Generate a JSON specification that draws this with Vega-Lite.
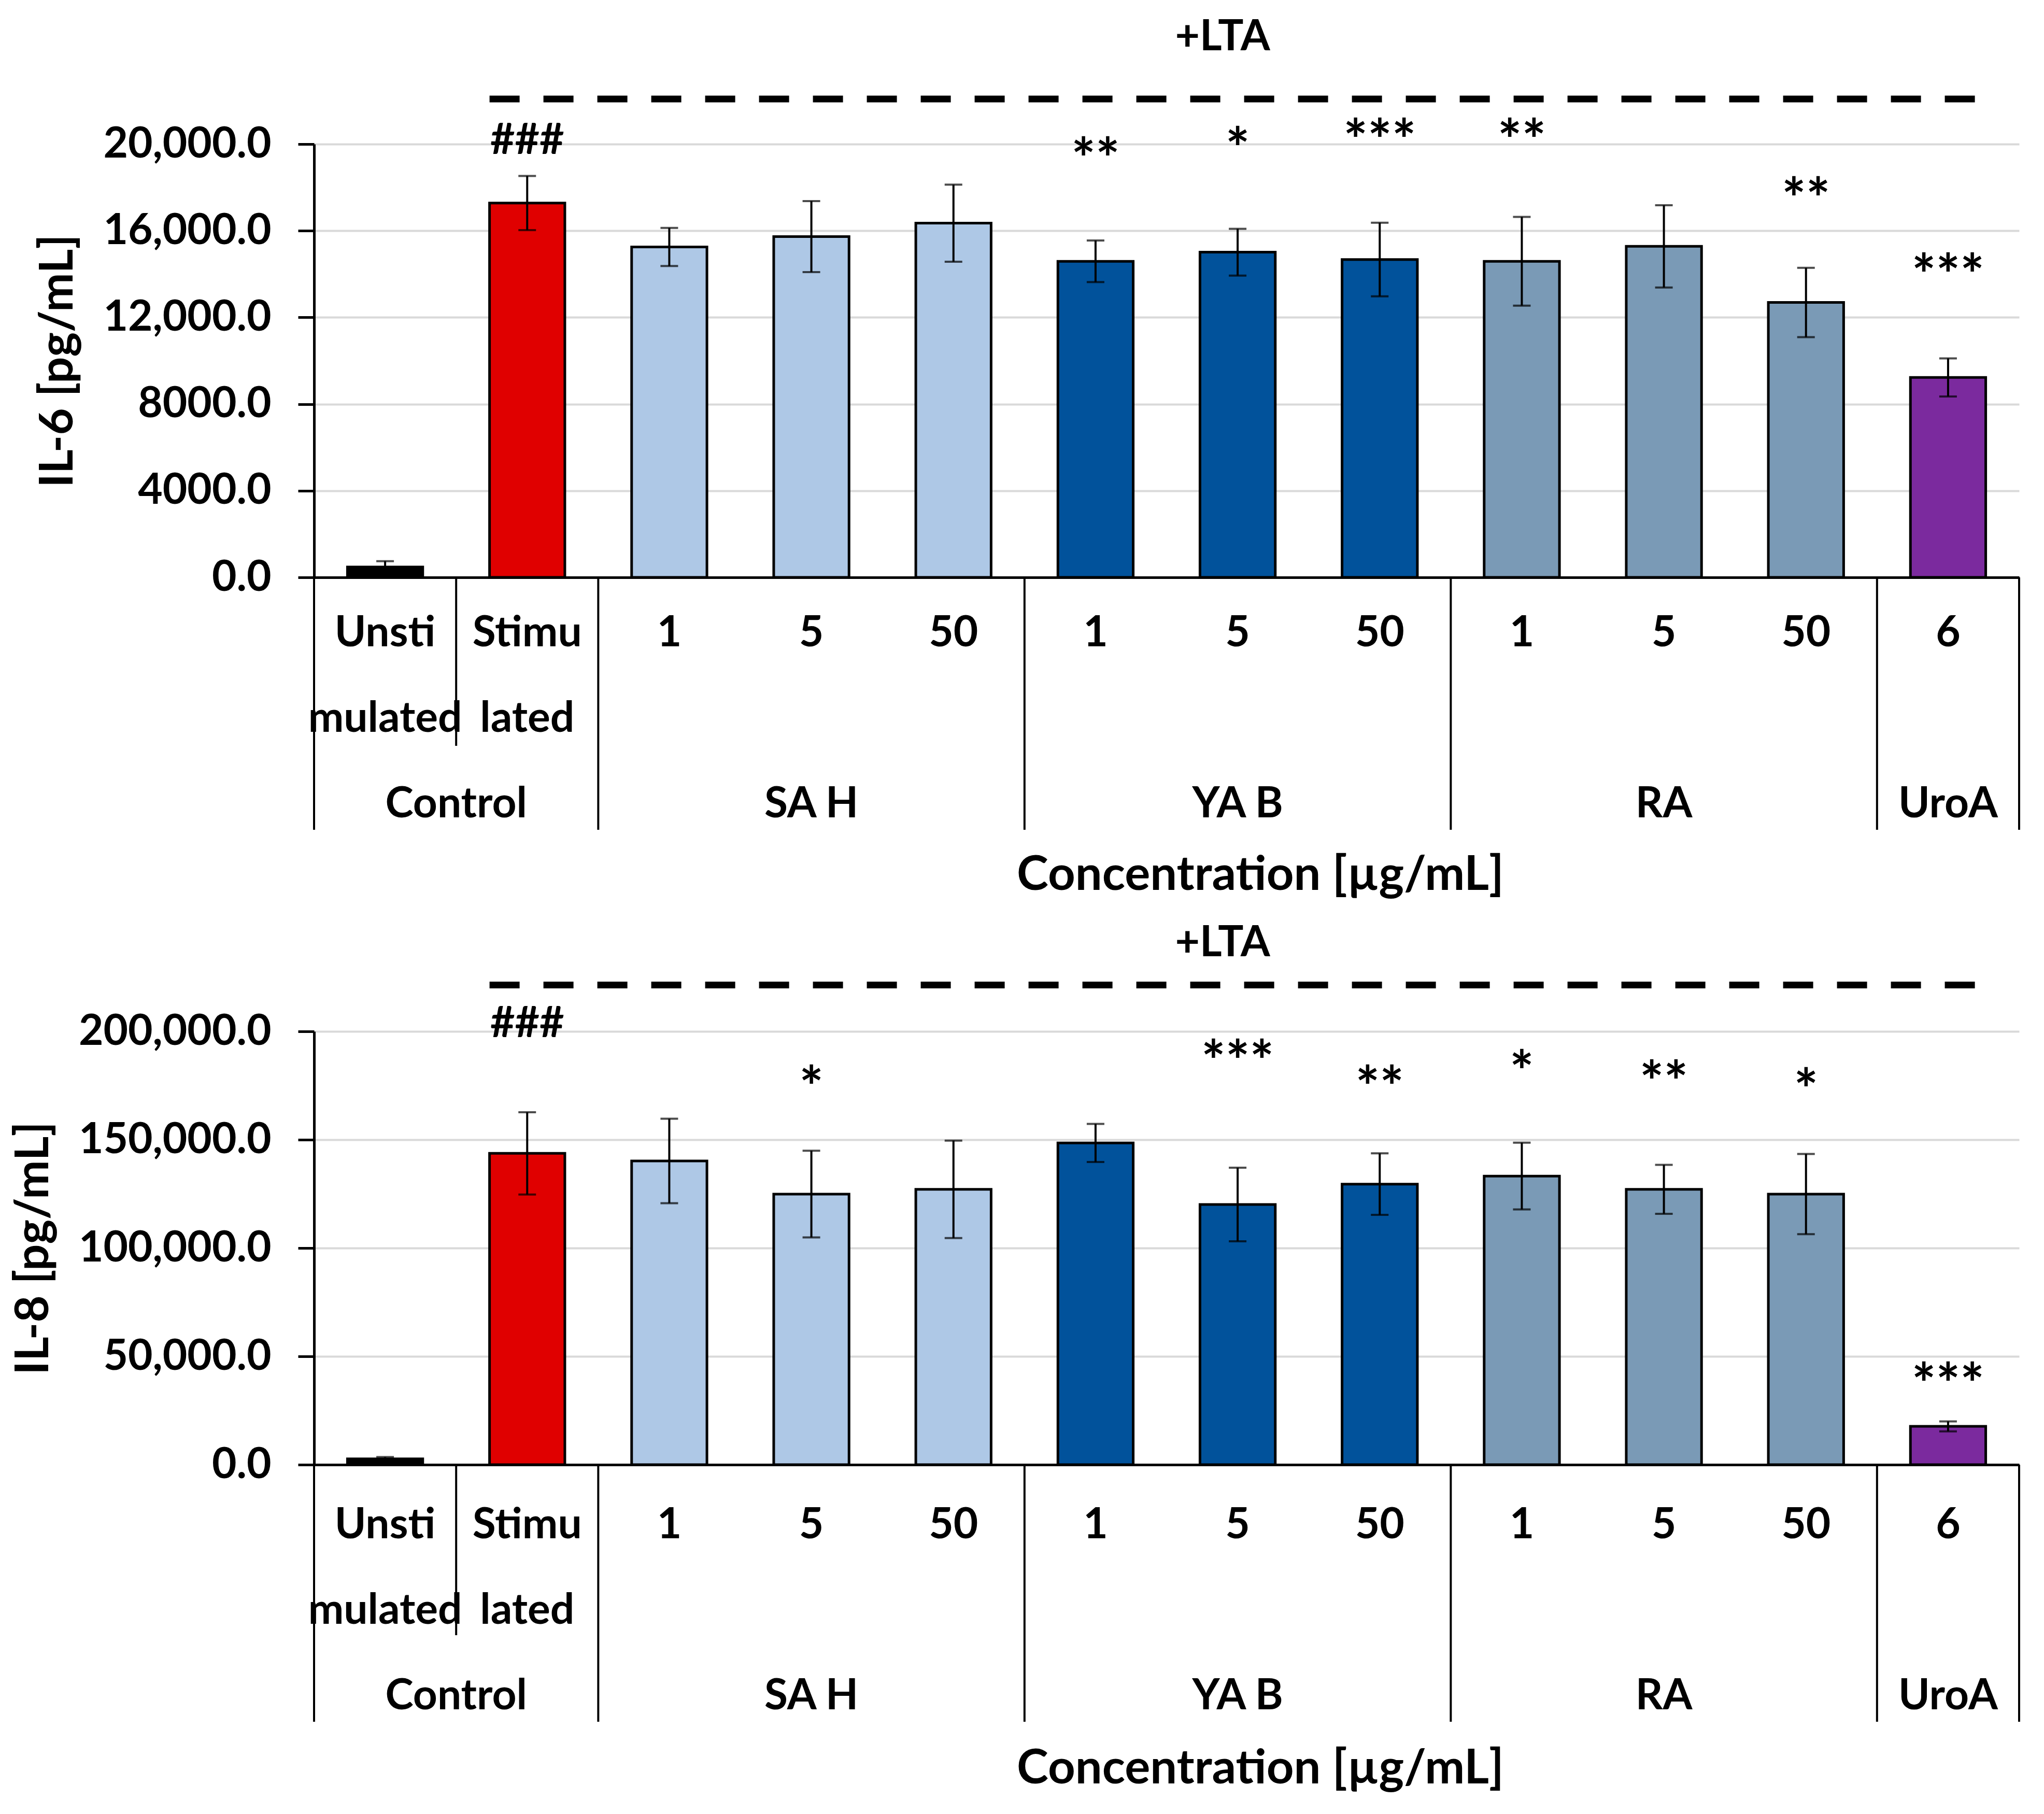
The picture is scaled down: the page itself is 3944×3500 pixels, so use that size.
{
  "$schema": "https://vega.github.io/schema/vega-lite/v6.json",
  "padding": {"left": 20, "top": 30, "right": 10, "bottom": 10},
  "background": "white",
  "spacing": 0,
  "bounds": "flush",
  "datasets": {
    "il6": [
      {"id": "c1", "series": "Unstimulated", "mean": 480, "sd": 270},
      {"id": "c2", "series": "Stimulated", "mean": 17280, "sd": 1250},
      {"id": "c3", "series": "SA H", "mean": 15250, "sd": 880},
      {"id": "c4", "series": "SA H", "mean": 15730, "sd": 1640},
      {"id": "c5", "series": "SA H", "mean": 16350, "sd": 1780},
      {"id": "c6", "series": "YA B", "mean": 14590, "sd": 960},
      {"id": "c7", "series": "YA B", "mean": 15010, "sd": 1080},
      {"id": "c8", "series": "YA B", "mean": 14670, "sd": 1700},
      {"id": "c9", "series": "RA", "mean": 14590, "sd": 2050},
      {"id": "c10", "series": "RA", "mean": 15280, "sd": 1900},
      {"id": "c11", "series": "RA", "mean": 12690, "sd": 1600},
      {"id": "c12", "series": "UroA", "mean": 9230, "sd": 880}
    ],
    "il8": [
      {"id": "c1", "series": "Unstimulated", "mean": 2700, "sd": 800},
      {"id": "c2", "series": "Stimulated", "mean": 143700, "sd": 19000},
      {"id": "c3", "series": "SA H", "mean": 140200, "sd": 19500},
      {"id": "c4", "series": "SA H", "mean": 124900, "sd": 20000},
      {"id": "c5", "series": "SA H", "mean": 127100, "sd": 22500},
      {"id": "c6", "series": "YA B", "mean": 148500, "sd": 8800},
      {"id": "c7", "series": "YA B", "mean": 120100, "sd": 17000},
      {"id": "c8", "series": "YA B", "mean": 129500, "sd": 14200},
      {"id": "c9", "series": "RA", "mean": 133200, "sd": 15400},
      {"id": "c10", "series": "RA", "mean": 127100, "sd": 11300},
      {"id": "c11", "series": "RA", "mean": 124900, "sd": 18500},
      {"id": "c12", "series": "UroA", "mean": 17700, "sd": 2300}
    ],
    "sig6": [
      {"id": "c2", "sig": "###", "pos": 20270},
      {"id": "c6", "sig": "**", "pos": 19870},
      {"id": "c7", "sig": "*", "pos": 20350},
      {"id": "c8", "sig": "***", "pos": 20750},
      {"id": "c9", "sig": "**", "pos": 20750},
      {"id": "c11", "sig": "**", "pos": 18050},
      {"id": "c12", "sig": "***", "pos": 14530}
    ],
    "sig8": [
      {"id": "c2", "sig": "###", "pos": 204600},
      {"id": "c4", "sig": "*", "pos": 179900},
      {"id": "c7", "sig": "***", "pos": 191900},
      {"id": "c8", "sig": "**", "pos": 179900},
      {"id": "c9", "sig": "*", "pos": 187100},
      {"id": "c10", "sig": "**", "pos": 182300},
      {"id": "c11", "sig": "*", "pos": 178800},
      {"id": "c12", "sig": "***", "pos": 42900}
    ],
    "lta6": [{"from": "c2", "to": "c12", "level": 22080, "label": "+LTA", "labelAt": "c7", "labelLevel": 24930}],
    "lta8": [{"from": "c2", "to": "c12", "level": 221400, "label": "+LTA", "labelAt": "c7", "labelLevel": 240700}],
    "cats": [
      {"id": "c1", "line1": "Unsti", "line2": "mulated"},
      {"id": "c2", "line1": "Stimu", "line2": "lated"},
      {"id": "c3", "line1": "1", "line2": ""},
      {"id": "c4", "line1": "5", "line2": ""},
      {"id": "c5", "line1": "50", "line2": ""},
      {"id": "c6", "line1": "1", "line2": ""},
      {"id": "c7", "line1": "5", "line2": ""},
      {"id": "c8", "line1": "50", "line2": ""},
      {"id": "c9", "line1": "1", "line2": ""},
      {"id": "c10", "line1": "5", "line2": ""},
      {"id": "c11", "line1": "50", "line2": ""},
      {"id": "c12", "line1": "6", "line2": ""}
    ],
    "groups": [
      {"group": "SA H", "at": "c4"},
      {"group": "YA B", "at": "c7"},
      {"group": "RA", "at": "c10"},
      {"group": "UroA", "at": "c12"}
    ],
    "control": [{"group": "Control", "after": "c1"}],
    "seps": [{"at": "c1"}, {"at": "c3"}, {"at": "c6"}, {"at": "c9"}, {"at": "c12"}],
    "edge": [{"at": "c12"}],
    "short": [{"at": "c2"}]
  },
  "vconcat": [
    {
      "width": 3290,
      "height": 836,
      "layer": [
        {
          "data": {"name": "il6"},
          "mark": {"type": "bar", "stroke": "#000000", "strokeWidth": 5},
          "encoding": {
            "x": {"field": "id", "type": "nominal", "title": null, "scale": {"domain": ["c1","c2","c3","c4","c5","c6","c7","c8","c9","c10","c11","c12"], "paddingInner": 0.47, "paddingOuter": 0.235}},
            "y": {"field": "mean", "type": "quantitative", "title": "IL-6 [pg/mL]", "scale": {"domain": [0, 20000], "nice": false},
                  "axis": {"values": [0, 4000, 8000, 12000, 16000, 20000], "labelExpr": "datum.value >= 10000 ? format(datum.value, ',.1f') : format(datum.value, '.1f')"}},
            "color": {"field": "series", "type": "nominal", "legend": null,
                      "scale": {"domain": ["Unstimulated","Stimulated","SA H","YA B","RA","UroA"], "range": ["#000000","#E00000","#AEC8E6","#01529B","#7A9AB6","#7B2A9E"]}}
          }
        },
        {
          "data": {"name": "il6"},
          "mark": {"type": "errorbar", "ticks": true, "size": 34, "thickness": 4, "color": "#000000"},
          "encoding": {
            "x": {"field": "id", "type": "nominal", "title": null},
            "y": {"field": "mean", "type": "quantitative", "title": "IL-6 [pg/mL]", "scale": {"domain": [0, 20000], "nice": false}},
            "yError": {"field": "sd"}
          }
        },
        {
          "data": {"name": "sig6"},
          "transform": [{"filter": "datum.sig != '###'"}],
          "mark": {"type": "text", "baseline": "middle", "fontSize": 110, "dy": 30},
          "encoding": {
            "x": {"field": "id", "type": "nominal", "title": null},
            "y": {"field": "pos", "type": "quantitative", "title": "IL-6 [pg/mL]", "scale": {"domain": [0, 20000], "nice": false}},
            "text": {"field": "sig"}
          }
        },
        {
          "data": {"name": "sig6"},
          "transform": [{"filter": "datum.sig == '###'"}],
          "mark": {"type": "text", "baseline": "middle", "dy": 5},
          "encoding": {
            "x": {"field": "id", "type": "nominal", "title": null},
            "y": {"field": "pos", "type": "quantitative", "title": "IL-6 [pg/mL]", "scale": {"domain": [0, 20000], "nice": false}},
            "text": {"field": "sig"}
          }
        },
        {
          "data": {"name": "lta6"},
          "mark": {"type": "rule", "strokeWidth": 13, "strokeDash": [58, 46], "color": "#000000"},
          "encoding": {
            "x": {"field": "from", "type": "nominal", "title": null, "bandPosition": 0},
            "x2": {"field": "to", "bandPosition": 1},
            "y": {"field": "level", "type": "quantitative", "title": "IL-6 [pg/mL]", "scale": {"domain": [0, 20000], "nice": false}}
          }
        },
        {
          "data": {"name": "lta6"},
          "mark": {"type": "text", "baseline": "middle"},
          "encoding": {
            "x": {"field": "labelAt", "type": "nominal", "title": null, "bandPosition": 0.3},
            "y": {"field": "labelLevel", "type": "quantitative", "title": "IL-6 [pg/mL]", "scale": {"domain": [0, 20000], "nice": false}},
            "text": {"field": "label"}
          }
        }
      ]
    },
    {
      "width": 3290,
      "height": 876,
      "layer": [
        {
          "data": {"name": "cats"},
          "mark": {"type": "text", "baseline": "middle"},
          "encoding": {
            "x": {"field": "id", "type": "nominal", "axis": null, "scale": {"domain": ["c1","c2","c3","c4","c5","c6","c7","c8","c9","c10","c11","c12"], "paddingInner": 0, "paddingOuter": 0}},
            "y": {"datum": 1, "type": "quantitative", "axis": null, "scale": {"domain": [0.345, 5.654], "reverse": true, "nice": false, "zero": false}},
            "text": {"field": "line1"}
          }
        },
        {
          "data": {"name": "cats"},
          "mark": {"type": "text", "baseline": "middle"},
          "encoding": {
            "x": {"field": "id", "type": "nominal", "axis": null},
            "y": {"datum": 2, "type": "quantitative", "axis": null},
            "text": {"field": "line2"}
          }
        },
        {
          "data": {"name": "groups"},
          "mark": {"type": "text", "baseline": "middle"},
          "encoding": {
            "x": {"field": "at", "type": "nominal", "axis": null},
            "y": {"datum": 3, "type": "quantitative", "axis": null},
            "text": {"field": "group"}
          }
        },
        {
          "data": {"name": "control"},
          "mark": {"type": "text", "baseline": "middle"},
          "encoding": {
            "x": {"field": "after", "type": "nominal", "axis": null, "bandPosition": 1},
            "y": {"datum": 3, "type": "quantitative", "axis": null},
            "text": {"field": "group"}
          }
        },
        {
          "data": {"name": "seps"},
          "mark": {"type": "rule", "strokeWidth": 4, "color": "#000000"},
          "encoding": {
            "x": {"field": "at", "type": "nominal", "axis": null, "bandPosition": 0},
            "y": {"datum": 0.345, "type": "quantitative", "axis": null},
            "y2": {"datum": 3.297}
          }
        },
        {
          "data": {"name": "edge"},
          "mark": {"type": "rule", "strokeWidth": 4, "color": "#000000"},
          "encoding": {
            "x": {"field": "at", "type": "nominal", "axis": null, "bandPosition": 1},
            "y": {"datum": 0.345, "type": "quantitative", "axis": null},
            "y2": {"datum": 3.297}
          }
        },
        {
          "data": {"name": "short"},
          "mark": {"type": "rule", "strokeWidth": 4, "color": "#000000"},
          "encoding": {
            "x": {"field": "at", "type": "nominal", "axis": null, "bandPosition": 0},
            "y": {"datum": 0.345, "type": "quantitative", "axis": null},
            "y2": {"datum": 2.315}
          }
        },
        {
          "data": {"values": [{"title": "Concentration [µg/mL]"}]},
          "mark": {"type": "text", "baseline": "middle", "fontSize": 92},
          "encoding": {
            "x": {"datum": "c7", "type": "nominal", "axis": null, "bandPosition": 0.66},
            "y": {"datum": 3.83, "type": "quantitative", "axis": null},
            "text": {"field": "title"}
          }
        }
      ]
    },
    {
      "width": 3290,
      "height": 836,
      "layer": [
        {
          "data": {"name": "il8"},
          "mark": {"type": "bar", "stroke": "#000000", "strokeWidth": 5},
          "encoding": {
            "x": {"field": "id", "type": "nominal", "title": null, "scale": {"domain": ["c1","c2","c3","c4","c5","c6","c7","c8","c9","c10","c11","c12"], "paddingInner": 0.47, "paddingOuter": 0.235}},
            "y": {"field": "mean", "type": "quantitative", "title": "IL-8 [pg/mL]", "scale": {"domain": [0, 200000], "nice": false},
                  "axis": {"values": [0, 50000, 100000, 150000, 200000], "labelExpr": "datum.value >= 10000 ? format(datum.value, ',.1f') : format(datum.value, '.1f')"}},
            "color": {"field": "series", "type": "nominal", "legend": null,
                      "scale": {"domain": ["Unstimulated","Stimulated","SA H","YA B","RA","UroA"], "range": ["#000000","#E00000","#AEC8E6","#01529B","#7A9AB6","#7B2A9E"]}}
          }
        },
        {
          "data": {"name": "il8"},
          "mark": {"type": "errorbar", "ticks": true, "size": 34, "thickness": 4, "color": "#000000"},
          "encoding": {
            "x": {"field": "id", "type": "nominal", "title": null},
            "y": {"field": "mean", "type": "quantitative", "title": "IL-8 [pg/mL]", "scale": {"domain": [0, 200000], "nice": false}},
            "yError": {"field": "sd"}
          }
        },
        {
          "data": {"name": "sig8"},
          "transform": [{"filter": "datum.sig != '###'"}],
          "mark": {"type": "text", "baseline": "middle", "fontSize": 110, "dy": 30},
          "encoding": {
            "x": {"field": "id", "type": "nominal", "title": null},
            "y": {"field": "pos", "type": "quantitative", "title": "IL-8 [pg/mL]", "scale": {"domain": [0, 200000], "nice": false}},
            "text": {"field": "sig"}
          }
        },
        {
          "data": {"name": "sig8"},
          "transform": [{"filter": "datum.sig == '###'"}],
          "mark": {"type": "text", "baseline": "middle", "dy": 5},
          "encoding": {
            "x": {"field": "id", "type": "nominal", "title": null},
            "y": {"field": "pos", "type": "quantitative", "title": "IL-8 [pg/mL]", "scale": {"domain": [0, 200000], "nice": false}},
            "text": {"field": "sig"}
          }
        },
        {
          "data": {"name": "lta8"},
          "mark": {"type": "rule", "strokeWidth": 13, "strokeDash": [58, 46], "color": "#000000"},
          "encoding": {
            "x": {"field": "from", "type": "nominal", "title": null, "bandPosition": 0},
            "x2": {"field": "to", "bandPosition": 1},
            "y": {"field": "level", "type": "quantitative", "title": "IL-8 [pg/mL]", "scale": {"domain": [0, 200000], "nice": false}}
          }
        },
        {
          "data": {"name": "lta8"},
          "mark": {"type": "text", "baseline": "middle"},
          "encoding": {
            "x": {"field": "labelAt", "type": "nominal", "title": null, "bandPosition": 0.3},
            "y": {"field": "labelLevel", "type": "quantitative", "title": "IL-8 [pg/mL]", "scale": {"domain": [0, 200000], "nice": false}},
            "text": {"field": "label"}
          }
        }
      ]
    },
    {
      "width": 3290,
      "height": 650,
      "layer": [
        {
          "data": {"name": "cats"},
          "mark": {"type": "text", "baseline": "middle"},
          "encoding": {
            "x": {"field": "id", "type": "nominal", "axis": null, "scale": {"domain": ["c1","c2","c3","c4","c5","c6","c7","c8","c9","c10","c11","c12"], "paddingInner": 0, "paddingOuter": 0}},
            "y": {"datum": 1, "type": "quantitative", "axis": null, "scale": {"domain": [0.29, 4.229], "reverse": true, "nice": false, "zero": false}},
            "text": {"field": "line1"}
          }
        },
        {
          "data": {"name": "cats"},
          "mark": {"type": "text", "baseline": "middle"},
          "encoding": {
            "x": {"field": "id", "type": "nominal", "axis": null},
            "y": {"datum": 2, "type": "quantitative", "axis": null},
            "text": {"field": "line2"}
          }
        },
        {
          "data": {"name": "groups"},
          "mark": {"type": "text", "baseline": "middle"},
          "encoding": {
            "x": {"field": "at", "type": "nominal", "axis": null},
            "y": {"datum": 3, "type": "quantitative", "axis": null},
            "text": {"field": "group"}
          }
        },
        {
          "data": {"name": "control"},
          "mark": {"type": "text", "baseline": "middle"},
          "encoding": {
            "x": {"field": "after", "type": "nominal", "axis": null, "bandPosition": 1},
            "y": {"datum": 3, "type": "quantitative", "axis": null},
            "text": {"field": "group"}
          }
        },
        {
          "data": {"name": "seps"},
          "mark": {"type": "rule", "strokeWidth": 4, "color": "#000000"},
          "encoding": {
            "x": {"field": "at", "type": "nominal", "axis": null, "bandPosition": 0},
            "y": {"datum": 0.29, "type": "quantitative", "axis": null},
            "y2": {"datum": 3.296}
          }
        },
        {
          "data": {"name": "edge"},
          "mark": {"type": "rule", "strokeWidth": 4, "color": "#000000"},
          "encoding": {
            "x": {"field": "at", "type": "nominal", "axis": null, "bandPosition": 1},
            "y": {"datum": 0.29, "type": "quantitative", "axis": null},
            "y2": {"datum": 3.296}
          }
        },
        {
          "data": {"name": "short"},
          "mark": {"type": "rule", "strokeWidth": 4, "color": "#000000"},
          "encoding": {
            "x": {"field": "at", "type": "nominal", "axis": null, "bandPosition": 0},
            "y": {"datum": 0.29, "type": "quantitative", "axis": null},
            "y2": {"datum": 2.284}
          }
        },
        {
          "data": {"values": [{"title": "Concentration [µg/mL]"}]},
          "mark": {"type": "text", "baseline": "middle", "fontSize": 92},
          "encoding": {
            "x": {"datum": "c7", "type": "nominal", "axis": null, "bandPosition": 0.66},
            "y": {"datum": 3.85, "type": "quantitative", "axis": null},
            "text": {"field": "title"}
          }
        }
      ]
    }
  ],
  "config": {
    "view": {"stroke": null},
    "font": "Lato",
    "text": {"font": "Lato", "fontWeight": "bold", "fontSize": 82, "color": "#000000"},
    "axisX": {"labels": false, "ticks": false, "grid": false, "domainColor": "#000000", "domainWidth": 5},
    "axisY": {
      "labelFont": "Lato", "labelFontWeight": "bold", "labelFontSize": 82, "labelColor": "#000000", "labelPadding": 52, "labelLimit": 0,
      "titleFont": "Lato", "titleFontWeight": "bold", "titleFontSize": 90, "titleColor": "#000000", "titlePadding": 40,
      "maxExtent": 800, "minExtent": 0,
      "gridColor": "#D9D9D9", "gridWidth": 4, "domainColor": "#000000", "domainWidth": 5,
      "tickColor": "#000000", "tickWidth": 5, "tickSize": 31
    }
  }
}
